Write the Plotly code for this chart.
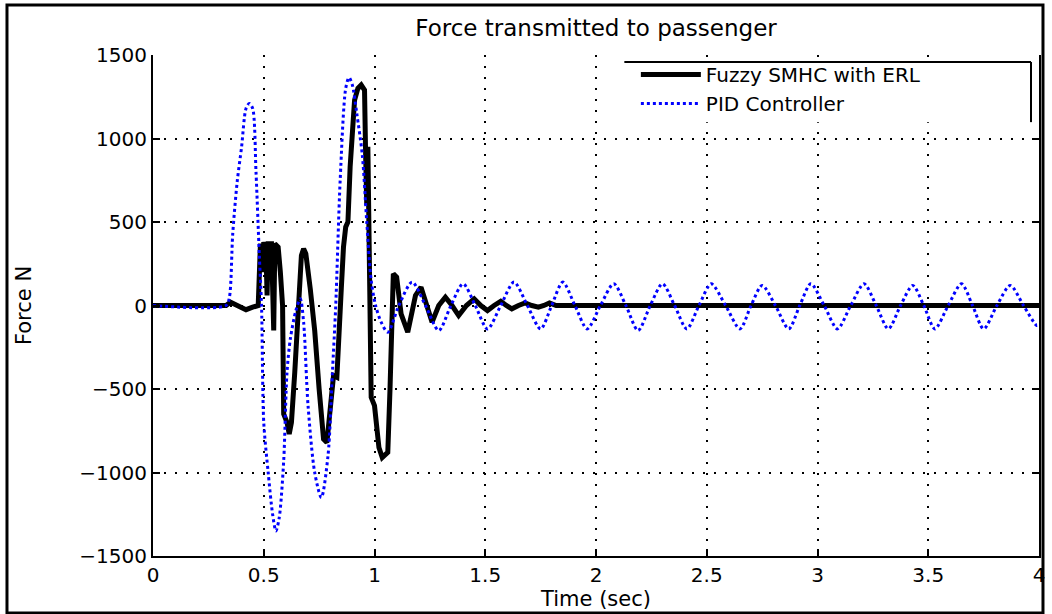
import plotly.graph_objects as go

# ---- data ----
fuzzy_t = [0, 0.33, 0.35, 0.38, 0.42, 0.45, 0.475, 0.485, 0.495, 0.50, 0.51, 0.515, 0.52, 0.535,
           0.545, 0.55, 0.565, 0.575, 0.585, 0.59, 0.605, 0.615, 0.625, 0.64, 0.655, 0.67, 0.68,
           0.69, 0.71, 0.73, 0.75, 0.77, 0.785, 0.80, 0.815, 0.83, 0.84, 0.85, 0.86, 0.87, 0.88,
           0.89, 0.91, 0.925, 0.94, 0.955, 0.96, 0.965, 0.97, 0.98, 0.985, 1.00, 1.02, 1.035,
           1.06, 1.07, 1.085, 1.10, 1.12, 1.15, 1.185, 1.21, 1.235, 1.26, 1.29, 1.32, 1.35, 1.38,
           1.415, 1.45, 1.48, 1.51, 1.54, 1.57, 1.595, 1.62, 1.65, 1.68, 1.71, 1.74, 1.765, 1.79,
           1.82, 4.0]
fuzzy_v = [0, 0, 20, 0, -25, -10, 0, 370, 200, 380, 330, 60, 370, 370,
           -150, 370, 350, 200, 0, -650, -700, -770, -700, -400, 0, 300, 340,
           310, 100, -150, -500, -800, -820, -600, -420, -430, -100, 100, 350, 470, 500,
           830, 1230, 1300, 1320, 1290, 900, 600, 950, 0, -550, -600, -850, -910,
           -880, -500, 190, 170, -50, -160, 60, 110, 0, -100, 0, 50, 0, -60,
           0, 40, 0, -30, 0, 25, 0, -20, 0, 15, 0, -10, 0, 15,
           0, 0]

pid_t = [0, 0.33, 0.345, 0.36, 0.38, 0.40, 0.42, 0.435, 0.45, 0.465, 0.48, 0.49, 0.50, 0.52,
         0.54, 0.555, 0.57, 0.59, 0.605, 0.62, 0.645, 0.665, 0.68, 0.70, 0.73, 0.76, 0.79,
         0.81, 0.825, 0.845, 0.87, 0.885, 0.90, 0.92, 0.945, 0.965, 0.985, 1.005, 1.03, 1.06,
         1.11, 1.17, 1.23, 1.29, 1.345, 1.40, 1.455, 1.51, 1.57, 1.63, 1.69, 1.75, 1.80, 1.85,
         1.905, 1.96, 2.02, 2.08, 2.135, 2.19, 2.245, 2.30, 2.355, 2.41, 2.465, 2.52, 2.585,
         2.65, 2.70, 2.75, 2.81, 2.87, 2.92, 2.97, 3.03, 3.09, 3.15, 3.21, 3.265, 3.32, 3.375,
         3.43, 3.48, 3.53, 3.59, 3.65, 3.70, 3.75, 3.81, 3.87, 3.93, 3.99, 4.0]
pid_v = [0, 0, 50, 430, 740, 950, 1180, 1210, 1180, 800, 300, 0, -700, -1000,
         -1250, -1350, -1270, -930, -400, -200, -30, 40, -100, -600, -1000, -1150, -900,
         -400, 0, 750, 1300, 1365, 1320, 1150, 900, 500, 150, 0, -100, -160,
         0, 140, 0, -150, 0, 130, 0, -140, 0, 140, 0, -140, 0, 140,
         0, -140, 0, 130, 0, -150, 0, 130, 0, -140, 0, 130, 0,
         -140, 0, 120, 0, -140, 0, 130, 0, -140, 0, 130, 0, -140, 0,
         120, 0, -140, 0, 130, 0, -140, 0, 120, 0, -120, -115]

x_ticks = [0, 0.5, 1, 1.5, 2, 2.5, 3, 3.5, 4]
x_labels = ["0", "0.5", "1", "1.5", "2", "2.5", "3", "3.5", "4"]
y_ticks = [-1500, -1000, -500, 0, 500, 1000, 1500]
y_labels = ["\u22121500", "\u22121000", "\u2212500", "0", "500", "1000", "1500"]

FONT = "DejaVu Sans"

fig = go.Figure()
fig.add_trace(go.Scatter(x=fuzzy_t, y=fuzzy_v, mode="lines", name="Fuzzy SMHC with ERL",
                         line=dict(color="black", width=5)))
fig.add_trace(go.Scatter(x=pid_t, y=pid_v, mode="lines", name="PID Controller",
                         line=dict(color="#0000ff", width=3, dash="dot", shape="spline",
                                   smoothing=0.8)))

axis_common = dict(showline=True, linecolor="black", linewidth=2, ticks="inside",
                   ticklen=7, tickcolor="black", tickwidth=1.5, showgrid=True,
                   gridcolor="black", gridwidth=1.5, griddash="2px,9px", zeroline=False,
                   tickfont=dict(family=FONT, size=20, color="black"))

fig.update_xaxes(range=[0, 4], tickvals=x_ticks, ticktext=x_labels,
                 title=dict(text="Time (sec)", font=dict(family=FONT, size=21, color="black"),
                            standoff=2),
                 mirror=False, **axis_common)
fig.update_yaxes(range=[-1500, 1500], tickvals=y_ticks, ticktext=y_labels,
                 title=dict(text="Force N", font=dict(family=FONT, size=21, color="black"),
                            standoff=42),
                 mirror="ticks", **axis_common)

fig.update_layout(
    width=1052, height=614,
    margin=dict(l=153, r=7, t=55, b=58),
    paper_bgcolor="white", plot_bgcolor="white",
    title=dict(text="Force transmitted to passenger", x=0.5, xref="paper",
               y=1 - 28 / 614, yanchor="middle",
               font=dict(family=FONT, size=23, color="black")),
    showlegend=True,
    legend=dict(x=0.545, y=1.0, xanchor="left", yanchor="top", bgcolor="rgba(0,0,0,0)",
                borderwidth=0, itemwidth=60, tracegroupgap=0,
                font=dict(family=FONT, size=20, color="black")),
    shapes=[
        dict(type="rect", xref="paper", yref="paper", x0=0.532, x1=0.991, y0=0.866,
             y1=0.986, layer="above", fillcolor="white", line=dict(width=0)),
        dict(type="line", xref="paper", yref="paper", x0=0.532, x1=0.991, y0=0.986, y1=0.986,
             layer="above", line=dict(color="black", width=2)),
        dict(type="line", xref="paper", yref="paper", x0=0.991, x1=0.991, y0=0.986, y1=0.866,
             layer="above", line=dict(color="black", width=2)),
        dict(type="rect", xref="paper", yref="paper", x0=-0.1648, x1=1.0045, y0=-0.1138,
             y1=1.0998, line=dict(color="black", width=3)),
    ],
)

fig.write_html("out.html", config={"displayModeBar": False},
               post_script="document.body.style.margin='0';document.body.style.overflow='hidden';")
